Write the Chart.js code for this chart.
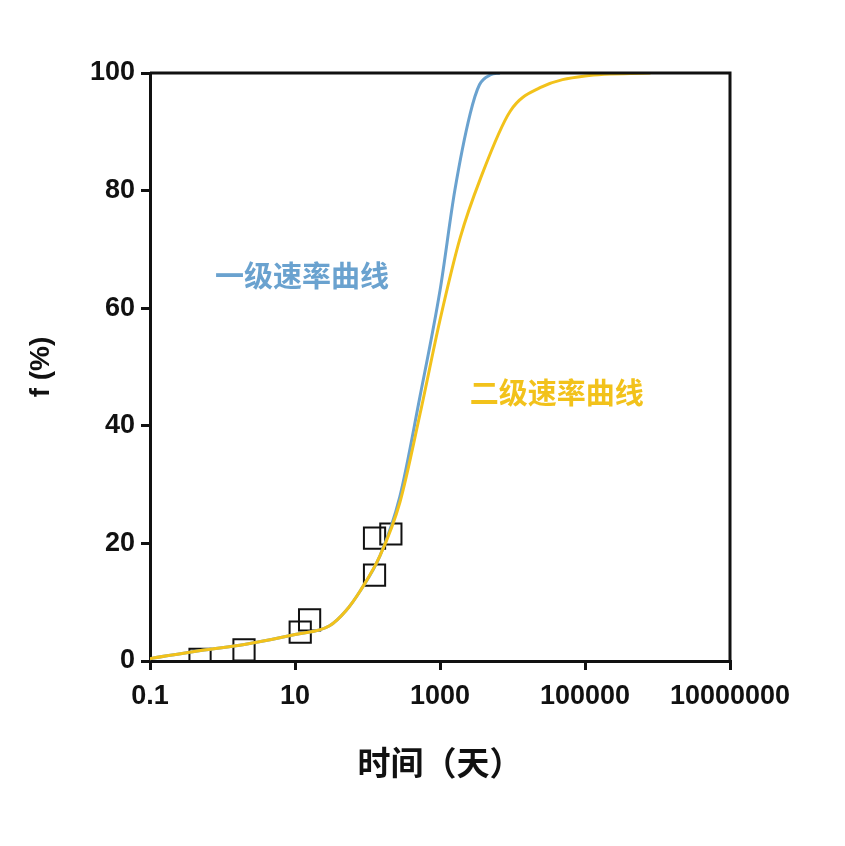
<!DOCTYPE html>
<html lang="zh">
<head>
<meta charset="UTF-8">
<script src="https://cdn.jsdelivr.net/npm/chart.js"></script>
<style>
  body { margin: 0; background: #fff; }
</style>
</head>
<body>
<canvas id="c" width="845" height="846"></canvas>
<script>
// 数据
const xTicks = [0.1, 10, 1000, 100000, 10000000];
const pointsX = [0.49, 1.98, 11.8, 15.9, 125, 125, 210];
const pointsY = [0.3, 1.9, 4.9, 7.0, 14.6, 20.9, 21.6];
const firstX = [0.1, 0.5, 2, 10, 30, 50, 80, 150, 280, 530, 1000, 1600, 2600, 3500, 5000, 6700];
const firstY = [0.4, 1.8, 2.8, 4.5, 6.0, 8.5, 12, 18, 28, 45, 63, 80, 93, 98, 99.7, 100];
const secondX = [0.1, 0.5, 2, 10, 30, 50, 80, 150, 280, 530, 1000, 1900, 3600, 9300, 24000, 100000, 800000];
const secondY = [0.4, 1.8, 2.8, 4.5, 6.0, 8.5, 12, 18, 27, 42, 58, 72, 82, 93.5, 97.5, 99.5, 100];

const blue = '#6aa2cf';
const yellow = '#f2c21b';

function pts(xs, ys) { return xs.map((x, i) => ({ x: x, y: ys[i] })); }

const labels = {
  id: 'labels',
  afterDraw(chart) {
    const c = chart.ctx, x = chart.scales.x, y = chart.scales.y;
    c.save();
    c.font = 'bold 29px "Noto Sans CJK SC"';
    c.textBaseline = 'middle';
    c.fillStyle = blue;
    c.fillText('一级速率曲线', x.getPixelForValue(0.79), y.getPixelForValue(65.5));
    c.fillStyle = yellow;
    c.fillText('二级速率曲线', x.getPixelForValue(2570), y.getPixelForValue(45.6));
    c.restore();
  }
};

new Chart(document.getElementById('c'), {
  type: 'scatter',
  data: {
    datasets: [
      { data: pts(secondX, secondY), showLine: true, borderColor: yellow, borderWidth: 3, pointRadius: 0, cubicInterpolationMode: 'monotone' },
      { data: pts(firstX, firstY), showLine: true, borderColor: blue, borderWidth: 3, pointRadius: 0, cubicInterpolationMode: 'monotone' },
      { data: pts(pointsX, pointsY), pointStyle: 'rect', pointRadius: 15, borderColor: '#111', borderWidth: 2, backgroundColor: 'rgba(0,0,0,0)' }
    ]
  },
  options: {
    responsive: false,
    animation: false,
    layout: { padding: { left: 0, top: 73, right: 115, bottom: 60 } },
    plugins: { legend: { display: false }, tooltip: { enabled: false } },
    scales: {
      x: {
        type: 'logarithmic', min: 0.1, max: 10000000,
        afterBuildTicks: s => { s.ticks = xTicks.map(v => ({ value: v })); },
        afterFit: s => { s.height = 125; },
        ticks: { color: '#111', font: { size: 27, weight: 'bold', family: 'Liberation Sans' }, callback: v => String(v), maxRotation: 0, padding: 10 },
        grid: { drawOnChartArea: false, color: '#111', lineWidth: 3, tickLength: 9 },
        border: { color: '#111', width: 3 },
        title: { display: true, text: '时间（天）', color: '#111', font: { size: 33, weight: 'bold', family: 'Noto Sans CJK SC' }, padding: { top: 0 } }
      },
      y: {
        min: 0, max: 100,
        afterFit: s => { s.width = 150; },
        ticks: { stepSize: 20, color: '#111', font: { size: 27, weight: 'bold', family: 'Liberation Sans' }, padding: 6 },
        grid: { drawOnChartArea: false, color: '#111', lineWidth: 3, tickLength: 9 },
        border: { color: '#111', width: 3 },
        title: { display: true, text: 'f (%)', color: '#111', font: { size: 28, weight: 'bold', family: 'Liberation Sans' }, padding: { top: 24 } }
      }
    }
  },
  plugins: [labels, {
    id: 'frame',
    afterDraw(chart) {
      const a = chart.chartArea, c = chart.ctx;
      c.save(); c.strokeStyle = '#111'; c.lineWidth = 3;
      c.beginPath(); c.moveTo(a.left, a.top); c.lineTo(a.right, a.top); c.lineTo(a.right, a.bottom); c.stroke();
      c.restore();
    }
  }]
});
</script>
</body>
</html>
